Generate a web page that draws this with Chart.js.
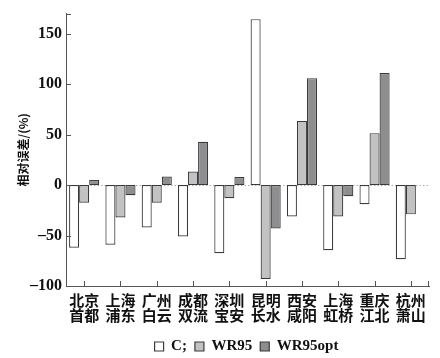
<!DOCTYPE html>
<html>
<head>
<meta charset="utf-8">
<script src="https://cdn.jsdelivr.net/npm/chart.js@4.4.1/dist/chart.umd.min.js"></script>
<style>
  html, body { margin: 0; padding: 0; background: #fff; }
  #wrap { width: 440px; height: 358px; }
</style>
</head>
<body>
<div id="wrap"><canvas id="chart" width="440" height="358"></canvas></div>
<script>
// airports (two-line labels)
const airports = [
  ['北京', '首都'], ['上海', '浦东'], ['广州', '白云'], ['成都', '双流'], ['深圳', '宝安'],
  ['昆明', '长水'], ['西安', '咸阳'], ['上海', '虹桥'], ['重庆', '江北'], ['杭州', '萧山']
];
const seriesNames = ['C;', 'WR95', 'WR95opt'];

// relative error (%)
const cValues      = [-62, -59, -42, -51, -67.5, 164.5, -31, -64.5, -19, -73.5];
const wr95Values   = [-17.5, -32, -17.5, 13.5, -13, -93, 63.5, -31, 51.5, -29];
const wr95optValues = [5, -10, 8.5, 43, 8, -43, 106, -11, 111, null];

const yTicks = [-100, -50, 0, 50, 100, 150];
const yMin = -100, yMax = 170;

const serif = '"Liberation Serif", "DejaVu Serif", serif';
const cjk = '"Noto Sans CJK SC", sans-serif';
const axisColor = '#555';

// inward tick marks + dotted zero line
const axisDecor = {
  id: 'axisDecor',
  afterUpdate(chart) {
    // legend sits right of centre in the original
    const lg = chart.legend;
    if (lg) { lg.left += 24; lg.right += 24; }
  },
  beforeDatasetsDraw(chart) {
    const { ctx, chartArea, scales } = chart;
    const y0 = Math.round(scales.y.getPixelForValue(0)) + 0.5;
    ctx.save();
    ctx.strokeStyle = '#aaa';
    ctx.lineWidth = 1;
    ctx.setLineDash([1.5, 2]);
    ctx.beginPath();
    ctx.moveTo(chartArea.left, y0);
    ctx.lineTo(chartArea.right, y0);
    ctx.stroke();
    ctx.restore();
  },
  afterDraw(chart) {
    const { ctx, chartArea, scales } = chart;
    ctx.save();
    ctx.strokeStyle = axisColor;
    ctx.lineWidth = 1;
    ctx.beginPath();
    [...yTicks, yMax].forEach(v => {
      const py = Math.round(scales.y.getPixelForValue(v)) + 0.5;
      ctx.moveTo(chartArea.left, py);
      ctx.lineTo(chartArea.left + 5, py);
    });
    airports.forEach((_, i) => {
      const px = Math.round(scales.x.getPixelForValue(i)) + 0.5;
      ctx.moveTo(px, chartArea.bottom);
      ctx.lineTo(px, chartArea.bottom - 5);
    });
    const rx = Math.round(chartArea.right) - 0.5;
    ctx.moveTo(rx, chartArea.bottom);
    ctx.lineTo(rx, chartArea.bottom - 5);
    ctx.stroke();
    ctx.restore();
  }
};

const barStyle = {
  borderColor: '#3a3a3a',
  borderWidth: 1.2,
  borderSkipped: false,
  categoryPercentage: 0.83,
  barPercentage: 1
};

new Chart(document.getElementById('chart'), {
  type: 'bar',
  data: {
    labels: airports,
    datasets: [
      { label: seriesNames[0], data: cValues, backgroundColor: '#ffffff', ...barStyle },
      { label: seriesNames[1], data: wr95Values, backgroundColor: '#c2c2c2', ...barStyle },
      { label: seriesNames[2], data: wr95optValues, backgroundColor: '#8e8e90', ...barStyle }
    ]
  },
  options: {
    responsive: false,
    animation: false,
    layout: { padding: { top: 13, right: 11, left: 16, bottom: -6 } },
    plugins: {
      tooltip: { enabled: false },
      legend: {
        position: 'bottom',
        labels: {
          color: '#111',
          font: { family: serif, size: 15, weight: 'bold' },
          boxWidth: 9,
          boxHeight: 9,
          padding: 8
        }
      }
    },
    scales: {
      x: {
        grid: { display: false, drawTicks: false },
        border: { display: true, color: axisColor, width: 1 },
        ticks: {
          color: '#111',
          padding: 6,
          maxRotation: 0,
          autoSkip: false,
          font: { family: cjk, size: 15, weight: 'bold', lineHeight: 1.05 }
        },
        afterFit(s) { s.height = 45; }
      },
      y: {
        min: yMin,
        max: yMax,
        grid: { display: false, drawTicks: false },
        border: { display: true, color: axisColor, width: 1 },
        afterBuildTicks(s) {
          s.ticks = [...yTicks, yMax].map(v => ({ value: v }));
        },
        ticks: {
          color: '#111',
          padding: 4,
          font: { family: serif, size: 16, weight: 'bold' },
          callback(v) {
            if (v === yMax) return '';
            return String(v).replace('-', '\u2013');
          }
        },
        title: {
          display: true,
          text: '相对误差/(%)',
          color: '#111',
          padding: { top: 0, bottom: 0 },
          font: { family: cjk, size: 12, weight: 'bold' }
        },
        afterFit(s) { s.width = 50; }
      }
    }
  },
  plugins: [axisDecor]
});
</script>
</body>
</html>
